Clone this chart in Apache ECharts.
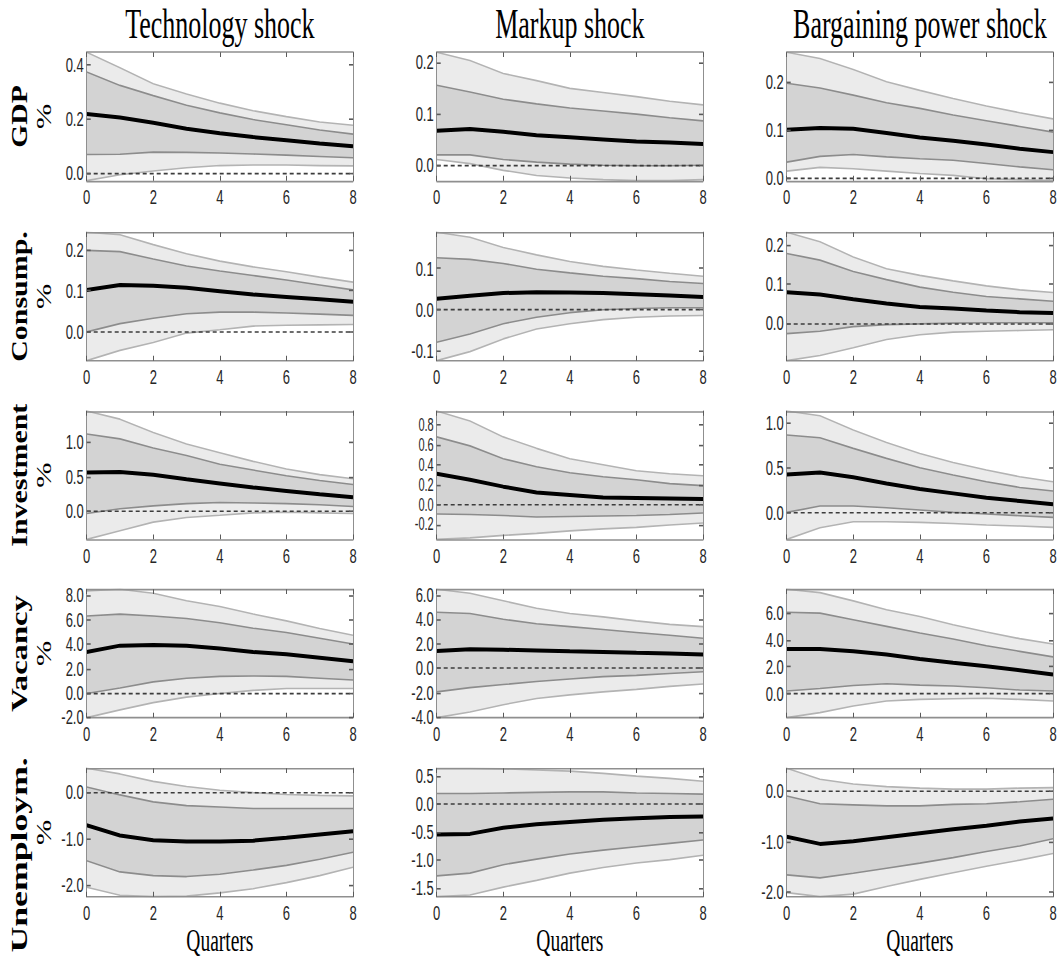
<!DOCTYPE html>
<html>
<head>
<meta charset="utf-8">
<script src="https://cdn.jsdelivr.net/npm/echarts@6.0.0/dist/echarts.min.js"></script>
<style>
  html { overflow: hidden; background: #fff; }
  body { margin: 0; padding: 0; background: #fff; width: 1060px; height: 961px; }
  #wrap { width: 1060px; height: 961px; position: relative; }
  /* the source figure is stretched vertically, so draw at 1/1.6 height and scale up */
  #chart { position: absolute; left: 0; top: 0; width: 1060px; height: 600.6px; transform: scaleY(1.6); transform-origin: 0 0; }
</style>
</head>
<body>
<div id="wrap"><div id="chart"></div></div>
<script>
var quarters = [0, 1, 2, 3, 4, 5, 6, 7, 8];
var shocks = ['Technology shock', 'Markup shock', 'Bargaining power shock'];
var variables = ['GDP', 'Consump.', 'Investment', 'Vacancy', 'Unemploym.'];

// every panel: [lower 90%, lower 68%, median, upper 68%, upper 90%]
var gdpTech = [
  [-0.030, -0.008, 0.006, 0.018, 0.026, 0.028, 0.028, 0.026, 0.025],
  [0.067, 0.068, 0.076, 0.075, 0.073, 0.069, 0.065, 0.060, 0.055],
  [0.218, 0.205, 0.185, 0.163, 0.146, 0.132, 0.120, 0.108, 0.098],
  [0.374, 0.324, 0.286, 0.250, 0.222, 0.197, 0.178, 0.158, 0.143],
  [0.447, 0.390, 0.330, 0.292, 0.258, 0.230, 0.208, 0.188, 0.176]
];
var gdpMarkup = [
  [0.011, 0.003, -0.010, -0.020, -0.025, -0.028, -0.030, -0.030, -0.028],
  [0.020, 0.020, 0.011, 0.006, 0.002, 0.000, -0.001, -0.001, 0.000],
  [0.067, 0.070, 0.065, 0.058, 0.054, 0.050, 0.046, 0.044, 0.041],
  [0.155, 0.142, 0.128, 0.119, 0.111, 0.105, 0.099, 0.092, 0.086],
  [0.219, 0.203, 0.178, 0.164, 0.149, 0.141, 0.133, 0.124, 0.117]
];
var gdpBarg = [
  [0.013, 0.021, 0.018, 0.013, 0.008, 0.004, -0.003, -0.005, -0.007],
  [0.032, 0.044, 0.048, 0.043, 0.039, 0.036, 0.029, 0.022, 0.016],
  [0.100, 0.104, 0.102, 0.093, 0.084, 0.077, 0.069, 0.060, 0.053],
  [0.198, 0.188, 0.173, 0.157, 0.145, 0.131, 0.119, 0.107, 0.095],
  [0.263, 0.250, 0.227, 0.201, 0.183, 0.166, 0.150, 0.136, 0.123]
];

var consTech = [
  [-0.070, -0.045, -0.026, -0.003, 0.005, 0.014, 0.016, 0.017, 0.018],
  [0.000, 0.020, 0.033, 0.044, 0.048, 0.048, 0.046, 0.043, 0.040],
  [0.102, 0.114, 0.112, 0.107, 0.099, 0.091, 0.085, 0.079, 0.073],
  [0.198, 0.195, 0.177, 0.160, 0.148, 0.137, 0.126, 0.114, 0.102],
  [0.242, 0.236, 0.212, 0.190, 0.172, 0.158, 0.146, 0.133, 0.121]
];
var consMarkup = [
  [-0.125, -0.103, -0.072, -0.048, -0.035, -0.025, -0.019, -0.016, -0.015],
  [-0.080, -0.060, -0.035, -0.019, -0.008, -0.001, 0.002, 0.004, 0.004],
  [0.026, 0.033, 0.040, 0.042, 0.041, 0.040, 0.037, 0.034, 0.030],
  [0.126, 0.122, 0.112, 0.098, 0.089, 0.081, 0.075, 0.068, 0.063],
  [0.188, 0.176, 0.151, 0.133, 0.117, 0.105, 0.096, 0.088, 0.081]
];
var consBarg = [
  [-0.096, -0.083, -0.063, -0.042, -0.030, -0.023, -0.021, -0.019, -0.017],
  [-0.027, -0.021, -0.009, -0.004, -0.002, 0.000, 0.001, 0.001, 0.001],
  [0.079, 0.073, 0.061, 0.050, 0.041, 0.037, 0.032, 0.028, 0.026],
  [0.178, 0.161, 0.132, 0.111, 0.092, 0.079, 0.068, 0.062, 0.056],
  [0.232, 0.208, 0.169, 0.139, 0.122, 0.108, 0.095, 0.085, 0.078]
];

var invTech = [
  [-0.410, -0.286, -0.160, -0.092, -0.059, -0.025, -0.017, -0.025, -0.034],
  [-0.034, 0.034, 0.076, 0.109, 0.126, 0.118, 0.109, 0.092, 0.067],
  [0.560, 0.570, 0.530, 0.462, 0.403, 0.345, 0.294, 0.244, 0.200],
  [1.120, 1.050, 0.916, 0.807, 0.681, 0.597, 0.513, 0.445, 0.387],
  [1.454, 1.336, 1.143, 0.975, 0.849, 0.723, 0.613, 0.530, 0.470]
];
var invMarkup = [
  [-0.350, -0.335, -0.310, -0.290, -0.265, -0.245, -0.230, -0.205, -0.185],
  [-0.095, -0.100, -0.110, -0.125, -0.120, -0.115, -0.110, -0.100, -0.085],
  [0.310, 0.250, 0.180, 0.120, 0.095, 0.070, 0.065, 0.060, 0.055],
  [0.680, 0.590, 0.460, 0.380, 0.320, 0.280, 0.250, 0.210, 0.190],
  [0.940, 0.840, 0.680, 0.565, 0.460, 0.400, 0.340, 0.310, 0.290]
];
var invBarg = [
  [-0.296, -0.167, -0.100, -0.100, -0.107, -0.119, -0.137, -0.148, -0.163],
  [0.004, 0.074, 0.074, 0.056, 0.030, 0.004, -0.015, -0.033, -0.052],
  [0.426, 0.448, 0.393, 0.326, 0.263, 0.215, 0.167, 0.130, 0.093],
  [0.863, 0.833, 0.715, 0.604, 0.500, 0.419, 0.344, 0.281, 0.241],
  [1.130, 1.078, 0.919, 0.781, 0.659, 0.559, 0.474, 0.400, 0.344]
];

var vacTech = [
  [-2.03, -1.40, -0.80, -0.35, -0.05, 0.20, 0.35, 0.35, 0.35],
  [-0.05, 0.40, 0.90, 1.20, 1.35, 1.38, 1.35, 1.20, 1.05],
  [3.35, 3.87, 3.92, 3.87, 3.63, 3.35, 3.16, 2.88, 2.59],
  [6.30, 6.45, 6.30, 6.10, 5.75, 5.30, 4.95, 4.48, 4.00],
  [8.35, 8.49, 8.16, 7.55, 7.08, 6.46, 5.90, 5.28, 4.72]
];
var vacMarkup = [
  [-4.06, -3.60, -3.00, -2.50, -2.20, -1.95, -1.75, -1.50, -1.30],
  [-1.95, -1.60, -1.35, -1.10, -0.90, -0.70, -0.60, -0.45, -0.30],
  [1.40, 1.55, 1.50, 1.45, 1.38, 1.32, 1.25, 1.20, 1.12],
  [4.58, 4.48, 4.00, 3.63, 3.40, 3.16, 2.92, 2.69, 2.45],
  [6.46, 6.13, 5.52, 4.90, 4.48, 4.20, 3.87, 3.58, 3.40]
];
var vacBarg = [
  [-1.77, -1.40, -0.91, -0.54, -0.42, -0.37, -0.34, -0.42, -0.54],
  [0.20, 0.39, 0.61, 0.74, 0.64, 0.57, 0.44, 0.27, 0.20],
  [3.32, 3.32, 3.14, 2.90, 2.58, 2.29, 2.04, 1.74, 1.43],
  [6.04, 5.97, 5.48, 4.99, 4.50, 4.05, 3.56, 3.14, 2.73],
  [7.74, 7.49, 6.88, 6.22, 5.72, 5.11, 4.57, 4.08, 3.69]
];

var unTech = [
  [-2.05, -2.22, -2.25, -2.24, -2.17, -2.08, -1.95, -1.80, -1.62],
  [-1.48, -1.72, -1.80, -1.82, -1.77, -1.68, -1.58, -1.45, -1.30],
  [-0.72, -0.94, -1.04, -1.07, -1.07, -1.05, -0.99, -0.92, -0.85],
  [0.10, -0.07, -0.22, -0.30, -0.33, -0.36, -0.36, -0.36, -0.36],
  [0.50, 0.38, 0.22, 0.11, 0.03, -0.02, -0.06, -0.08, -0.09]
];
var unMarkup = [
  [-1.65, -1.62, -1.48, -1.36, -1.23, -1.13, -1.05, -0.99, -0.91],
  [-1.28, -1.23, -1.08, -0.98, -0.89, -0.82, -0.76, -0.70, -0.64],
  [-0.54, -0.53, -0.42, -0.36, -0.32, -0.28, -0.25, -0.23, -0.22],
  [0.19, 0.19, 0.20, 0.21, 0.22, 0.22, 0.20, 0.19, 0.18],
  [0.64, 0.64, 0.63, 0.61, 0.59, 0.55, 0.50, 0.46, 0.41]
];
var unBarg = [
  [-2.01, -2.09, -2.04, -1.89, -1.75, -1.62, -1.49, -1.37, -1.24],
  [-1.66, -1.72, -1.63, -1.53, -1.43, -1.32, -1.20, -1.09, -0.95],
  [-0.91, -1.05, -1.00, -0.92, -0.84, -0.76, -0.69, -0.61, -0.55],
  [-0.105, -0.26, -0.28, -0.30, -0.30, -0.27, -0.26, -0.22, -0.17],
  [0.44, 0.224, 0.13, 0.08, 0.05, 0.03, 0.03, 0.05, 0.06]
];

// y tick labels per row, one list per shock
var ticksGdp = [[0, 0.2, 0.4], [0, 0.1, 0.2], [0, 0.1, 0.2]];
var ticksCons = [[0, 0.1, 0.2], [-0.1, 0, 0.1], [0, 0.1, 0.2]];
var ticksInv = [[0, 0.5, 1], [-0.2, 0, 0.2, 0.4, 0.6, 0.8], [0, 0.5, 1]];
var ticksVac = [[-2, 0, 2, 4, 6, 8], [-4, -2, 0, 2, 4, 6], [0, 2, 4, 6]];
var ticksUn = [[-2, -1, 0], [-1.5, -1, -0.5, 0, 0.5], [-2, -1, 0]];

var panels = [
  [gdpTech, gdpMarkup, gdpBarg],
  [consTech, consMarkup, consBarg],
  [invTech, invMarkup, invBarg],
  [vacTech, vacMarkup, vacBarg],
  [unTech, unMarkup, unBarg]
];
var ticks = [ticksGdp, ticksCons, ticksInv, ticksVac, ticksUn];

// layout in unscaled px
var gridLeft = [86.7, 436.7, 786.7];
var gridTop = [32.7, 145.2, 256.9, 368.3, 480.2];
var gridW = 266.3;
var gridH = 80.2;
// row label: squeeze along the text and vertical shift
var rowLabelSqueeze = [0.77, 0.78, 0.78, 0.85, 0.93];
var rowLabelShift = [0, 0, 0, 0, 14];

var frameColor = '#8f8f8f';
var tickColor = '#5a5a5a';
var labelFont = { fontFamily: 'Liberation Sans', fontSize: 13, lineHeight: 12, color: '#262626' };

var option = {
  animation: false,
  backgroundColor: '#ffffff',
  grid: [], xAxis: [], yAxis: [], series: [], graphic: []
};

function diff(a, b) {
  return a.map(function (v, k) { return v - b[k]; });
}

for (var r = 0; r < 5; r++) {
  for (var c = 0; c < 3; c++) {
    var g = r * 3 + c;
    var d = panels[r][c];
    var tk = ticks[r][c];
    var lo = Math.min.apply(null, d[0]);
    var hi = Math.max.apply(null, d[4]);
    // tightly packed tick labels get a smaller font so none is dropped
    var tickGap = (tk[1] - tk[0]) / (hi - lo) * gridH;
    var yFont = tickGap < 14 ? 11 : 13;

    option.grid.push({
      left: gridLeft[c], top: gridTop[r], width: gridW, height: gridH,
      outerBoundsMode: 'none'
    });

    // bottom and top x axes
    option.xAxis.push({
      type: 'category', gridIndex: g, data: quarters, boundaryGap: false, position: 'bottom', z: 5,
      axisLine: { show: true, onZero: false, lineStyle: { color: frameColor, width: 1 } },
      axisTick: { inside: true, interval: 1, length: 3, lineStyle: { color: tickColor } },
      axisLabel: Object.assign({ interval: 1, margin: 4 }, labelFont),
      splitLine: { show: false },
      name: r === 4 ? 'Quarters' : '',
      nameLocation: 'middle', nameGap: 18.5, nameMoveOverlap: false,
      nameTextStyle: { fontFamily: 'Liberation Serif', fontSize: 19.5, lineHeight: 18, color: '#000' }
    });
    option.xAxis.push({
      type: 'category', gridIndex: g, data: quarters, boundaryGap: false, position: 'top', z: 5,
      axisLine: { show: true, onZero: false, lineStyle: { color: frameColor, width: 1 } },
      axisTick: { inside: true, interval: 1, length: 3, lineStyle: { color: tickColor } },
      axisLabel: { show: false },
      splitLine: { show: false }
    });

    // left and right y axes
    option.yAxis.push({
      type: 'value', gridIndex: g, min: lo, max: hi, position: 'left', z: 5,
      axisLine: { show: true, onZero: false, lineStyle: { color: frameColor, width: 1 } },
      axisTick: { show: true, inside: true, length: 4, customValues: tk, lineStyle: { color: tickColor } },
      axisLabel: Object.assign({}, labelFont, {
        customValues: tk, margin: 3, hideOverlap: false, showMinLabel: true, showMaxLabel: true,
        fontSize: yFont, lineHeight: yFont,
        formatter: function (v) { return (Math.abs(v) < 1e-9 ? 0 : v).toFixed(1); }
      }),
      splitLine: { show: false }
    });
    option.yAxis.push({
      type: 'value', gridIndex: g, min: lo, max: hi, position: 'right', z: 5,
      axisLine: { show: true, onZero: false, lineStyle: { color: frameColor, width: 1 } },
      axisTick: { show: true, inside: true, length: 4, customValues: tk, lineStyle: { color: tickColor } },
      axisLabel: { show: false },
      splitLine: { show: false }
    });

    var xi = 2 * g, yi = 2 * g;
    var stackName = 'band' + g;
    var common = {
      type: 'line', xAxisIndex: xi, yAxisIndex: yi, symbol: 'none', silent: true,
      stack: stackName, stackStrategy: 'all', lineStyle: { opacity: 0 }
    };
    // shaded bands as a stack: base, outer-low band, inner band, outer-high band
    option.series.push(Object.assign({}, common, { data: d[0] }));
    option.series.push(Object.assign({}, common, { data: diff(d[1], d[0]), areaStyle: { color: '#ebebeb', opacity: 1 } }));
    option.series.push(Object.assign({}, common, { data: diff(d[3], d[1]), areaStyle: { color: '#d3d3d3', opacity: 1 } }));
    option.series.push(Object.assign({}, common, { data: diff(d[4], d[3]), areaStyle: { color: '#ebebeb', opacity: 1 } }));

    // band edges
    var edgeCol = ['#b3b3b3', '#8c8c8c', null, '#8c8c8c', '#b3b3b3'];
    [0, 1, 3, 4].forEach(function (k) {
      option.series.push({
        type: 'line', xAxisIndex: xi, yAxisIndex: yi, symbol: 'none', silent: true, z: 3,
        data: d[k], lineStyle: { color: edgeCol[k], width: 1 }
      });
    });

    // median response with zero reference line
    option.series.push({
      type: 'line', xAxisIndex: xi, yAxisIndex: yi, symbol: 'none', silent: true, z: 4,
      data: d[2], lineStyle: { color: '#000', width: 2.5 },
      markLine: {
        silent: true, symbol: 'none', label: { show: false }, animation: false,
        lineStyle: { color: '#3c3c3c', type: [4, 3], width: 1 },
        data: [{ yAxis: 0 }]
      }
    });
  }
}

// column titles
shocks.forEach(function (s, c) {
  option.graphic.push({
    type: 'text', x: gridLeft[c] + gridW / 2, y: 15, silent: true,
    style: { text: s, fontFamily: 'Liberation Serif', fontSize: 26, fill: '#000', align: 'center', verticalAlign: 'middle' }
  });
});

// row labels (rotated)
variables.forEach(function (v, r) {
  var cy = gridTop[r] + gridH / 2;
  option.graphic.push({
    type: 'text', x: 19, y: cy + rowLabelShift[r], rotation: Math.PI / 2, scaleX: rowLabelSqueeze[r], silent: true,
    style: { text: v, fontFamily: 'Liberation Serif', fontWeight: 'bold', fontSize: 24, fill: '#000', align: 'center', verticalAlign: 'middle' }
  });
  option.graphic.push({
    type: 'text', x: 44, y: cy, rotation: Math.PI / 2, scaleX: 0.86, silent: true,
    style: { text: '%', fontFamily: 'Liberation Serif', fontSize: 22, fill: '#000', align: 'center', verticalAlign: 'middle' }
  });
});

var chart = echarts.init(document.getElementById('chart'), null, { renderer: 'svg' });
chart.setOption(option);
</script>
</body>
</html>
